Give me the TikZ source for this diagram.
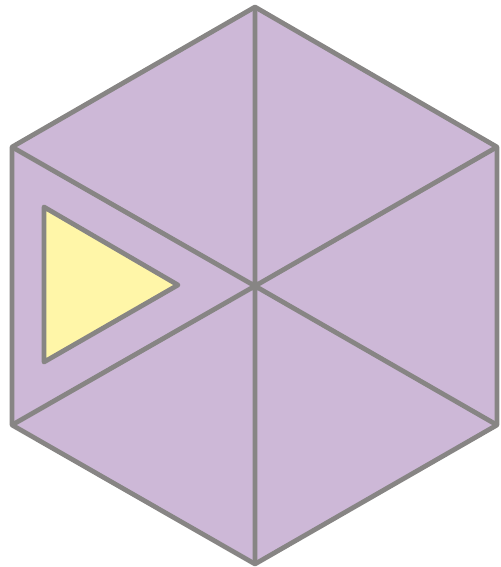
\documentclass[tikz,border=0pt]{standalone}
\usepackage{tikz}

\definecolor{hexfill}{RGB}{205,184,215}
\definecolor{hexline}{RGB}{135,133,132}
\definecolor{trifill}{RGB}{255,246,168}

\tikzset{
  edge/.style={draw=hexline,line width=2.7pt,line join=round},
}

\begin{document}
\begin{tikzpicture}[x=.02cm,y=-.02cm]
\path[use as bounding box] (0,0) rectangle (500,567);
\coordinate (top) at (255,7);
\coordinate (ur) at (497,147);
\coordinate (lr) at (497,425);
\coordinate (bot) at (255,564);
\coordinate (ll) at (12,425);
\coordinate (ul) at (12,147);
\coordinate (c) at (255,286);
\fill[hexfill] (top)--(ur)--(lr)--(bot)--(ll)--(ul)--cycle;
\draw[edge] (c)--(top) (c)--(ur) (c)--(lr) (c)--(bot) (c)--(ll) (c)--(ul);
\draw[edge] (top)--(ur)--(lr)--(bot)--(ll)--(ul)--cycle;
% small triangle
\coordinate (t1) at (44,207);
\coordinate (t2) at (178,285);
\coordinate (t3) at (44,362);
\draw[edge,fill=trifill] (t1)--(t2)--(t3)--cycle;
\end{tikzpicture}
\end{document}
